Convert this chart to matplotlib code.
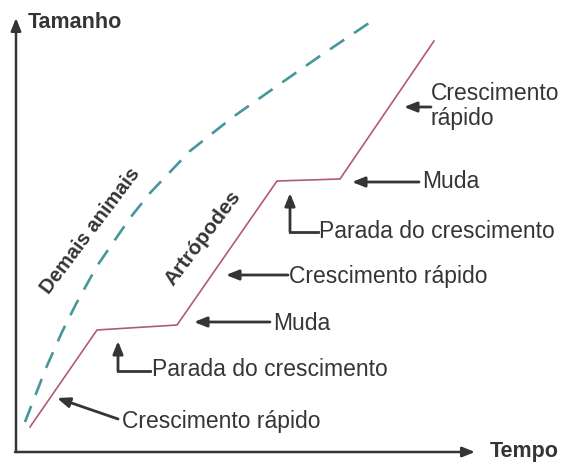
import matplotlib
matplotlib.use("Agg")
import matplotlib.pyplot as plt

# arthropod growth (steps: rapid growth / growth stop / moult)
arthropod_time = [14, 81, 161, 261, 324, 418]
arthropod_size = [25, 122, 127, 271, 273, 411]

# other animals (continuous growth)
other_time = [9, 30, 46, 60, 81, 114, 134, 174, 217, 261, 304, 359]
other_size = [30, 84, 120, 148, 186, 234, 259, 301, 335, 366, 396, 433]

x_label = "Tempo"
y_label = "Tamanho"
curve_labels = ["Demais animais", "Artrópodes"]

ink = "#353535"
plt.rcParams['font.family'] = ['Liberation Sans', 'DejaVu Sans']

fig = plt.figure(figsize=(5.63, 4.64), dpi=100)
ax = fig.add_axes([0, 0, 1, 1])
ax.set_xlim(-16, 547)
ax.set_ylim(-11, 453)
ax.axis('off')

# curves
ax.plot(arthropod_time, arthropod_size, color='#b0587f', lw=1.2, solid_joinstyle='miter')
dash, = ax.plot(other_time, other_size, color='#47979a', lw=1.9)
dash.set_dashes([6.5, 4.5])

def arrow(tail, head, lw=2.0):
    ax.annotate('', xy=head, xytext=tail,
                arrowprops=dict(arrowstyle='-|>,head_length=0.75,head_width=0.3',
                                color=ink, lw=lw, shrinkA=0, shrinkB=0))

# axes with arrows
arrow((0, 0), (0, 434), lw=1.8)
arrow((-1, 0), (459, 0), lw=1.8)
ax.text(12, 431, y_label, fontsize=15.5, fontweight='bold', color=ink, ha='left', va='center')
ax.text(474, 1, x_label, fontsize=15.5, fontweight='bold', color=ink, ha='left', va='center')

# curve names
ax.text(74, 222, curve_labels[0], fontsize=14.5, fontweight='bold', color=ink,
        rotation=53, ha='center', va='center', rotation_mode='anchor')
ax.text(187, 215, curve_labels[1], fontsize=15, fontweight='bold', color=ink,
        rotation=53, ha='center', va='center', rotation_mode='anchor')

fs = 16.5
# lower rapid growth
ax.text(106, 31, "Crescimento rápido", fontsize=fs, color=ink, ha='left', va='center')
arrow((102, 33), (41, 54))
# lower growth stop
ax.plot([102, 134], [81, 81], color=ink, lw=2.0)
arrow((102, 81), (102, 111))
ax.text(136, 83, "Parada do crescimento", fontsize=fs, color=ink, ha='left', va='center')
# lower moult
arrow((254, 130), (178, 130))
ax.text(257, 130, "Muda", fontsize=fs, color=ink, ha='left', va='center')
# middle rapid growth
arrow((272, 177), (210, 177))
ax.text(273, 176, "Crescimento rápido", fontsize=fs, color=ink, ha='left', va='center')
# upper growth stop
ax.plot([274, 302], [220, 220], color=ink, lw=2.0)
arrow((274, 220), (274, 259))
ax.text(303, 221, "Parada do crescimento", fontsize=fs, color=ink, ha='left', va='center')
# upper moult
arrow((403, 270), (336, 270))
ax.text(406, 271, "Muda", fontsize=fs, color=ink, ha='left', va='center')
# top rapid growth
arrow((415, 345), (388, 345))
ax.text(415, 347, "Crescimento\nrápido", fontsize=fs, color=ink, ha='left', va='center',
        linespacing=1.1)

fig.savefig("out.png", dpi=100, facecolor='white')
